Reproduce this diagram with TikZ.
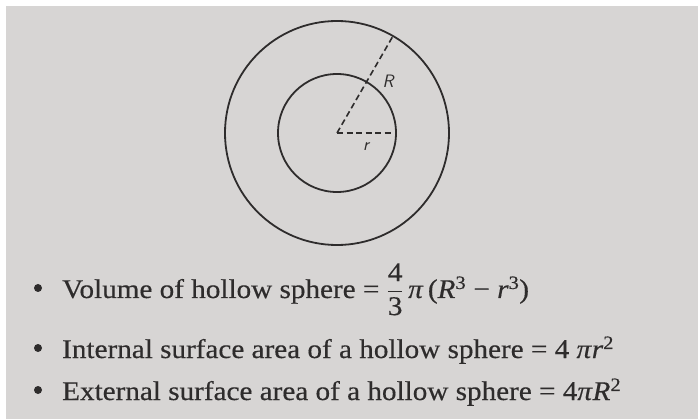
\documentclass[tikz,border=0pt]{standalone}
\usepackage{amsmath}
\usepackage{fontspec}
\setmainfont{Liberation Serif}[FakeStretch=1.08,FakeBold=0.4]
\usepackage{xcolor}
\definecolor{paper}{HTML}{D7D5D4}
\definecolor{ink}{HTML}{2E2C2C}
\usepackage{tikz}
\usetikzlibrary{positioning,calc}
\newcommand{\vr}{\textit{r}}
\newcommand{\vR}{\textit{R}}
\newcommand{\vpi}{\textit{π}}
\newcommand{\hollowvol}{$\dfrac{\text{4}}{\text{3}}$\,\vpi\,(\vR\textsuperscript{3} − \vr\textsuperscript{3})}

\begin{document}
\begin{tikzpicture}[x=1pt,y=-1pt,
  rim/.style={draw=ink,line width=1.8pt},
  radius line/.style={draw=ink,line width=1.6pt,dash pattern=on 6pt off 3.5pt},
  lbl/.style={text=ink,font=\sffamily\itshape\fontsize{18}{18}\selectfont,inner sep=0pt},
  item/.style={anchor=base west,text=ink,inner sep=0pt,font=\fontsize{27}{30}\selectfont},
  dot/.style={circle,fill=ink,inner sep=0pt,minimum size=8pt}]
\useasboundingbox (0,0) rectangle (698,419);
\fill[white] (0,0) rectangle (698,419);
\fill[paper] (6,6) rectangle (698,419);
% sphere
\coordinate (O) at (337,133);
\path[rim] (O) circle[radius=112];
\path[rim] (O) circle[radius=59];
\coordinate (Rend) at ($(O)+(60:112 and -112)$);
\coordinate (rend) at ($(O)+(57,0)$);
\path[radius line] (O) -- (Rend);
\path[radius line] (O) -- (rend);
\node[lbl] (Rlab) at (388,81) {R};
\node[lbl] (rlab) at (366,147) {r};
% formulas
\node[item] (vol) at (62,298) {Volume of hollow sphere = \hollowvol};
\node[item] (inner) at (62,358) {Internal surface area of a hollow sphere = 4 \vpi\vr\textsuperscript{2}};
\node[item] (outer) at (62,400) {External surface area of a hollow sphere = 4\vpi\vR\textsuperscript{2}};
\node[dot] (b1) at (38,288) {};
\node[dot] (b2) at (38,348) {};
\node[dot] (b3) at (38,390) {};
\end{tikzpicture}
\end{document}
